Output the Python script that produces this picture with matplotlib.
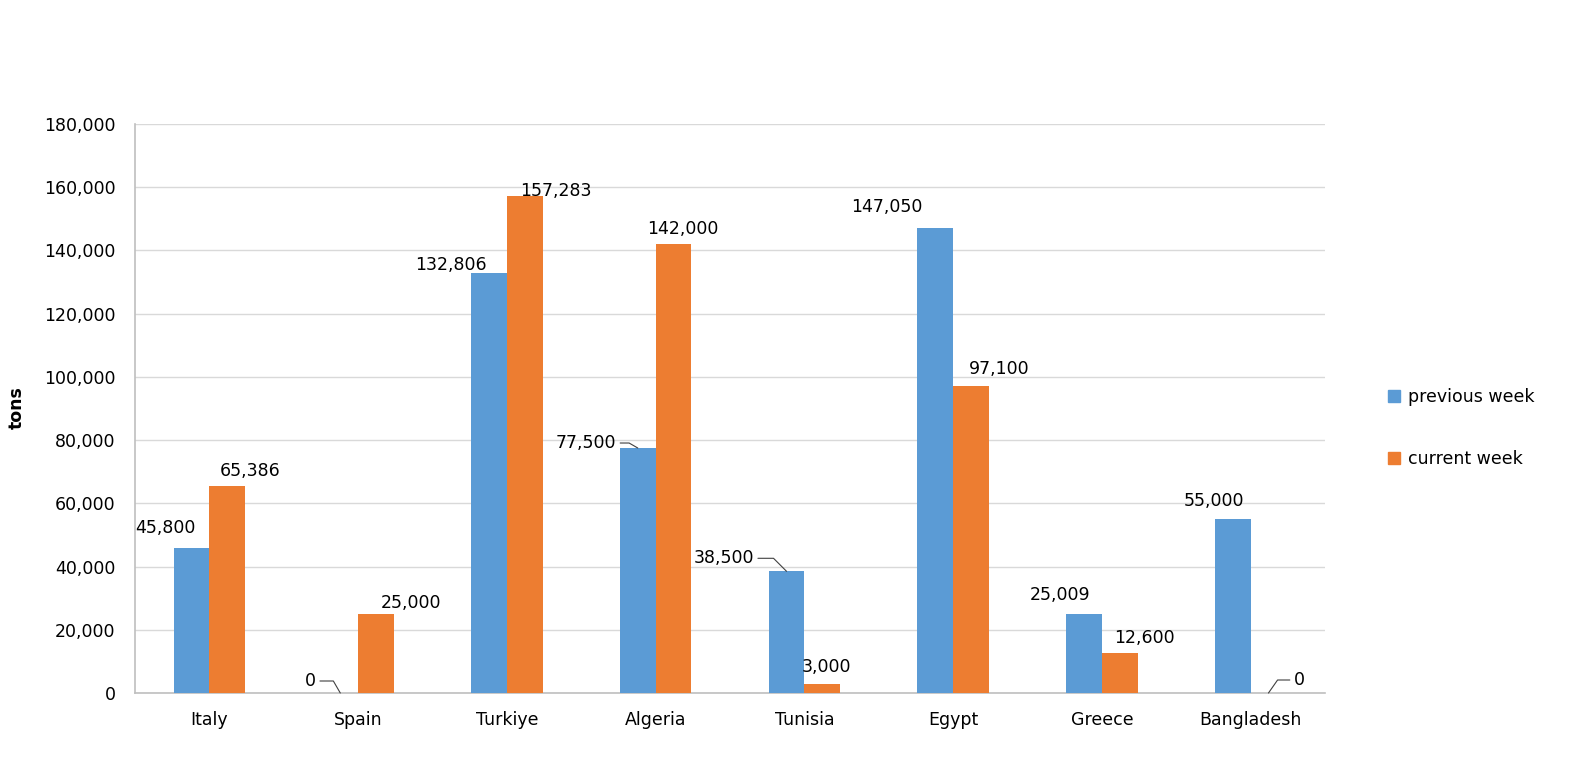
import matplotlib
matplotlib.use("Agg")
import matplotlib.pyplot as plt
import numpy as np
from matplotlib.patches import Patch

countries = ["Italy", "Spain", "Turkiye", "Algeria", "Tunisia", "Egypt", "Greece", "Bangladesh"]
previous_week = [45800, 0, 132806, 77500, 38500, 147050, 25009, 55000]
current_week = [65386, 25000, 157283, 142000, 3000, 97100, 12600, 0]

blue = "#5b9bd5"
orange = "#ed7d31"

plt.rcParams["font.family"] = ["DejaVu Sans"]
plt.rcParams["font.size"] = 12.5

fig = plt.figure(figsize=(15.84, 7.70), dpi=100)
ax = fig.add_axes([135 / 1584, 77 / 770, 1190 / 1584, 569 / 770])

x = np.arange(len(countries))
w = 0.24
ax.bar(x - w / 2, previous_week, w, color=blue, zorder=3)
ax.bar(x + w / 2, current_week, w, color=orange, zorder=3)

ax.set_xlim(-0.5, len(countries) - 0.5)
ax.set_ylim(0, 180000)
ax.set_yticks(np.arange(0, 180001, 20000))
ax.yaxis.set_major_formatter(matplotlib.ticker.FuncFormatter(lambda v, p: f"{int(v):,}"))
ax.set_xticks(x)
ax.set_xticklabels(countries)
ax.tick_params(length=0, labelsize=12.5, colors="black")
ax.tick_params(axis="y", pad=14)
ax.tick_params(axis="x", pad=13)
ax.grid(axis="y", color="#d9d9d9", lw=1, zorder=0)
for s in ["top", "right"]:
    ax.spines[s].set_visible(False)
for s in ["left", "bottom"]:
    ax.spines[s].set_color("#bfbfbf")
    ax.spines[s].set_linewidth(1.2)

# label offsets in pixels (dx, dy) and leader line angle (None = no leader)
prev_lab = [(-26, 20, None), (-30, 12, 120), (-38, 8, None), (-52, 5, 150),
            (-63, 13, 135), (-48, 21, None), (-24, 19, None), (-19, 18, None)]
cur_lab = [(23, 15, None), (35, 11, None), (31, 5, None), (9, 15, None),
           (4, 17, None), (28, 17, None), (25, 15, None), (31, 13, 55)]

def label(xpos, val, spec):
    dx, dy, ang = spec
    kw = {}
    if ang is not None:
        kw["arrowprops"] = dict(arrowstyle="-", color="#404040", lw=0.8,
                                connectionstyle=f"angle,angleA=0,angleB={ang},rad=0",
                                shrinkA=1, shrinkB=0)
    ax.annotate(f"{val:,}", xy=(xpos, val), xytext=(dx, dy),
                textcoords="offset pixels", ha="center", va="center",
                fontsize=12.5, zorder=5, **kw)

for i in range(len(countries)):
    label(x[i] - w / 2, previous_week[i], prev_lab[i])
    label(x[i] + w / 2, current_week[i], cur_lab[i])

fig.text(17 / 1584, 1 - 408 / 770, "tons", rotation=90, fontweight="bold",
         fontsize=12.5, ha="center", va="center")

handles = [Patch(color=blue, label="previous week"), Patch(color=orange, label="current week")]
fig.legend(handles=handles, loc="center left", bbox_to_anchor=(1372 / 1584, 1 - 428 / 770),
           frameon=False, fontsize=12.5, handlelength=0.7, handleheight=0.7,
           handletextpad=0.5, labelspacing=2.5)

fig.savefig("out.png", dpi=100)
